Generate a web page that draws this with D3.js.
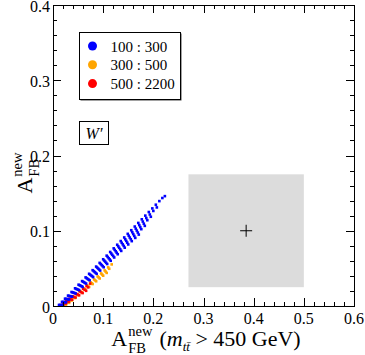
<!DOCTYPE html>
<html><head><meta charset="utf-8">
<script src="https://cdn.jsdelivr.net/npm/d3@7/dist/d3.min.js"></script>
<style>html,body{margin:0;padding:0;background:#fff;}svg{display:block;}
svg text{font-family:"Liberation Serif","Times New Roman","DejaVu Serif",serif;fill:#000;}</style>
</head><body>
<script>
// ---- data ----
const xTicks = [0, 0.1, 0.2, 0.3, 0.4, 0.5, 0.6];
const yTicks = [0, 0.1, 0.2, 0.3, 0.4];
const legendLabels = ["100 : 300", "300 : 500", "500 : 2200"];
const seriesColors = ["#0000ff", "#ffa500", "#ff0000"];

// blue (100:300) scan curves
const blue1X = [0.012,0.018,0.024,0.030,0.037,0.044,0.051,0.058,0.065,0.072,0.079,0.086,0.093,0.100,0.107,0.114,0.121,0.128,0.135,0.142,0.149,0.156,0.163,0.170,0.177,0.184,0.191,0.198,0.205,0.212,0.218,0.223];
const blue1Y = [0.0014,0.0055,0.0097,0.0138,0.0186,0.0235,0.0283,0.0331,0.0380,0.0428,0.0476,0.0524,0.0573,0.0621,0.0669,0.0718,0.0766,0.0814,0.0863,0.0911,0.0959,0.1007,0.1056,0.1104,0.1152,0.1201,0.1249,0.1297,0.1346,0.1394,0.1435,0.1460];
const blue2X = [0.014,0.020,0.026,0.032,0.039,0.046,0.053,0.060,0.067,0.074,0.081,0.088,0.095,0.102,0.109,0.116,0.123,0.130,0.137,0.144,0.151,0.158,0.165,0.172,0.179,0.186,0.193,0.200,0.207];
const blue2Y = [0.0013,0.0054,0.0094,0.0134,0.0181,0.0228,0.0276,0.0323,0.0370,0.0417,0.0464,0.0511,0.0558,0.0605,0.0652,0.0699,0.0746,0.0793,0.0840,0.0887,0.0934,0.0981,0.1028,0.1075,0.1122,0.1169,0.1216,0.1263,0.1310];
const blue3X = [0.016,0.022,0.028,0.034,0.041,0.048,0.055,0.062,0.069,0.076,0.083,0.090,0.097,0.104,0.111,0.118,0.125,0.132,0.139,0.146,0.153,0.160,0.167,0.174,0.181,0.188,0.195];
const blue3Y = [0.0013,0.0052,0.0092,0.0131,0.0177,0.0223,0.0269,0.0314,0.0360,0.0406,0.0452,0.0498,0.0544,0.0590,0.0635,0.0681,0.0727,0.0773,0.0819,0.0865,0.0910,0.0956,0.1002,0.1048,0.1094,0.1140,0.1186];
const blue4X = [0.018,0.024,0.030,0.036,0.043,0.050,0.057,0.064,0.071,0.078,0.085,0.092,0.099,0.106,0.113,0.120,0.127,0.134,0.141,0.148,0.155,0.162,0.169,0.176,0.183];
const blue4Y = [0.0013,0.0051,0.0089,0.0128,0.0172,0.0217,0.0262,0.0306,0.0351,0.0396,0.0440,0.0485,0.0530,0.0574,0.0619,0.0664,0.0708,0.0753,0.0798,0.0842,0.0887,0.0931,0.0976,0.1021,0.1065];
const blue5X = [0.020,0.026,0.032,0.038,0.045,0.052,0.059,0.066,0.073,0.080,0.087,0.094,0.101,0.108,0.115,0.122,0.129,0.136,0.143,0.150,0.157,0.164,0.171];
const blue5Y = [0.0012,0.0050,0.0087,0.0124,0.0167,0.0211,0.0254,0.0298,0.0341,0.0384,0.0428,0.0471,0.0515,0.0558,0.0601,0.0645,0.0688,0.0732,0.0775,0.0818,0.0862,0.0905,0.0949];

// orange (300:500)
const orange1X = [0.022,0.028,0.034,0.040,0.047,0.054,0.061,0.068,0.075,0.082,0.089,0.096,0.103,0.110,0.117];
const orange1Y = [0.0011,0.0046,0.0080,0.0114,0.0154,0.0194,0.0234,0.0274,0.0314,0.0353,0.0393,0.0433,0.0473,0.0513,0.0553];
const orange2X = [0.024,0.030,0.036,0.042,0.049,0.056,0.063,0.070,0.077,0.084,0.091,0.098,0.105,0.112];
const orange2Y = [0.0011,0.0044,0.0077,0.0110,0.0149,0.0187,0.0226,0.0264,0.0303,0.0341,0.0380,0.0418,0.0457,0.0495];
const orange3X = [0.026,0.032,0.038,0.044,0.051,0.058,0.065,0.072,0.079,0.086,0.093,0.100,0.107];
const orange3Y = [0.0011,0.0042,0.0074,0.0106,0.0143,0.0180,0.0217,0.0254,0.0292,0.0329,0.0366,0.0403,0.0440];

// red (500:2200)
const red1X = [0.014,0.020,0.026,0.032,0.039,0.046,0.053,0.060,0.067,0.074];
const red1Y = [0.0010,0.0038,0.0067,0.0096,0.0130,0.0163,0.0197,0.0230,0.0264,0.0298];
const red2X = [0.017,0.023,0.029,0.035,0.042,0.049,0.056,0.063,0.070];
const red2Y = [0.0009,0.0036,0.0063,0.0090,0.0122,0.0153,0.0185,0.0216,0.0248];
const red3X = [0.020,0.026,0.032,0.038,0.045,0.052,0.059,0.066];
const red3Y = [0.0008,0.0034,0.0059,0.0084,0.0113,0.0143,0.0172,0.0202];

// measurement box (centre and half-widths)
const measX = [0.385];
const measY = [0.100];
const measErrX = [0.115];
const measErrY = [0.075];

// ---- drawing ----
const W = 365, H = 355;
const L = 53, R = 354, T = 5, B = 306;
const x = d3.scaleLinear().domain([0, 0.6]).range([L, R]);
const y = d3.scaleLinear().domain([0, 0.4]).range([B, T]);

const svg = d3.select("body").append("svg").attr("width", W).attr("height", H);

// gray box
svg.append("rect")
  .attr("x", x(measX[0] - measErrX[0])).attr("y", y(measY[0] + measErrY[0]))
  .attr("width", x(measX[0] + measErrX[0]) - x(measX[0] - measErrX[0]))
  .attr("height", y(measY[0] - measErrY[0]) - y(measY[0] + measErrY[0]))
  .attr("fill", "#dcdcdc");
const cx = x(measX[0]), cy = y(measY[0]);
svg.append("path").attr("d", `M${cx-6},${cy}H${cx+6}M${cx},${cy-6}V${cy+6}`)
  .attr("stroke", "#000").attr("stroke-width", 1).attr("fill", "none");

// points
const groups = [
  {c: seriesColors[1], xs: [orange1X, orange2X, orange3X], ys: [orange1Y, orange2Y, orange3Y]},
  {c: seriesColors[2], xs: [red1X, red2X, red3X], ys: [red1Y, red2Y, red3Y]},
  {c: seriesColors[0], xs: [blue1X, blue2X, blue3X, blue4X, blue5X], ys: [blue1Y, blue2Y, blue3Y, blue4Y, blue5Y]},
];
const sz = 2.6;
groups.forEach(g => {
  g.xs.forEach((xs, i) => {
    const pts = xs.map((v, j) => [v, g.ys[i][j]]);
    svg.append("g").selectAll("rect").data(pts).join("rect")
      .attr("x", d => x(d[0]) - sz/2).attr("y", d => y(d[1]) - sz/2)
      .attr("width", sz).attr("height", sz).attr("fill", g.c);
  });
});

// ticks on all sides, inward
const xMinor = d3.range(0, 0.6001, 0.02).filter(v => Math.abs(v*10 - Math.round(v*10)) > 1e-6);
const yMinor = d3.range(0, 0.4001, 0.02).filter(v => Math.abs(v*10 - Math.round(v*10)) > 1e-6);
const tk = svg.append("g").attr("stroke", "#000").attr("stroke-width", 1);
xTicks.forEach(v => {
  const px = Math.round(x(v)) + 0.5;
  tk.append("line").attr("x1", px).attr("x2", px).attr("y1", B).attr("y2", B - 8);
  tk.append("line").attr("x1", px).attr("x2", px).attr("y1", T).attr("y2", T + 8);
});
xMinor.forEach(v => {
  const px = Math.round(x(v)) + 0.5;
  tk.append("line").attr("x1", px).attr("x2", px).attr("y1", B).attr("y2", B - 4);
  tk.append("line").attr("x1", px).attr("x2", px).attr("y1", T).attr("y2", T + 4);
});
yTicks.forEach(v => {
  const py = Math.round(y(v)) + 0.5;
  tk.append("line").attr("x1", L).attr("x2", L + 8).attr("y1", py).attr("y2", py);
  tk.append("line").attr("x1", R).attr("x2", R - 8).attr("y1", py).attr("y2", py);
});
yMinor.forEach(v => {
  const py = Math.round(y(v)) + 0.5;
  tk.append("line").attr("x1", L).attr("x2", L + 4).attr("y1", py).attr("y2", py);
  tk.append("line").attr("x1", R).attr("x2", R - 4).attr("y1", py).attr("y2", py);
});
svg.append("rect").attr("x", L + 0.5).attr("y", T + 0.5).attr("width", R - L).attr("height", B - T)
  .attr("fill", "none").attr("stroke", "#000").attr("stroke-width", 1);

// tick labels
const fmt = v => v === 0 ? "0" : d3.format(".1f")(v);
svg.append("g").selectAll("text").data(xTicks).join("text")
  .attr("x", d => x(d)).attr("y", B + 18).attr("text-anchor", "middle")
  .attr("font-size", 16).text(fmt);
svg.append("g").selectAll("text").data(yTicks).join("text")
  .attr("x", L - 3).attr("y", d => y(d) + 6.5).attr("text-anchor", "end")
  .attr("font-size", 16).text(fmt);

// composite "A^new_FB" label builder
function afb(g, fs) {
  const a = g.append("text").attr("x", 0).attr("y", 0).attr("font-size", fs).text("A");
  const wA = a.node().getComputedTextLength();
  const sfs = fs * 0.66;
  const n = g.append("text").attr("x", wA + 1).attr("y", -fs * 0.44).attr("font-size", sfs).text("new");
  const f = g.append("text").attr("x", wA + 1).attr("y", fs * 0.32).attr("font-size", sfs).text("FB");
  return wA + 1 + Math.max(n.node().getComputedTextLength(), f.node().getComputedTextLength());
}

// x-axis title
const xg = svg.append("g");
let xe = afb(xg, 22);
const rest = xg.append("text").attr("x", xe + 7).attr("y", 0).attr("font-size", 22);
rest.append("tspan").text("(");
rest.append("tspan").attr("font-style", "italic").text("m");
rest.append("tspan").attr("font-style", "italic").attr("font-size", 13).attr("dy", 5).text("tt\u0304");
rest.append("tspan").attr("dy", -5).text(" > 450 GeV)");
const xbw = xe + 7 + rest.node().getComputedTextLength();
xg.attr("transform", `translate(${206 - xbw / 2},346)`);

// y-axis title
const yg = svg.append("g");
const ybw = afb(yg, 22);
yg.attr("transform", `translate(32,${173 + ybw / 2}) rotate(-90)`);

// legend
const lg = svg.append("g");
lg.append("rect").attr("x", 80.5).attr("y", 33.5).attr("width", 101).attr("height", 67).attr("fill", "#444");
lg.append("rect").attr("x", 79.5).attr("y", 32.5).attr("width", 101).attr("height", 67)
  .attr("fill", "#fff").attr("stroke", "#000").attr("stroke-width", 1);
legendLabels.forEach((t, i) => {
  lg.append("circle").attr("cx", 92.5).attr("cy", 46 + i * 18.8).attr("r", 4.5).attr("fill", seriesColors[i]);
  lg.append("text").attr("x", 110.5).attr("y", 51.5 + i * 18.8).attr("font-size", 15).text(t);
});

// W' label
svg.append("rect").attr("x", 79.5).attr("y", 121.5).attr("width", 29).attr("height", 23)
  .attr("fill", "#fff").attr("stroke", "#000").attr("stroke-width", 1);
svg.append("text").attr("x", 94).attr("y", 139).attr("text-anchor", "middle")
  .attr("font-size", 16).attr("font-style", "italic").text("W\u2032");
</script>
</body></html>
